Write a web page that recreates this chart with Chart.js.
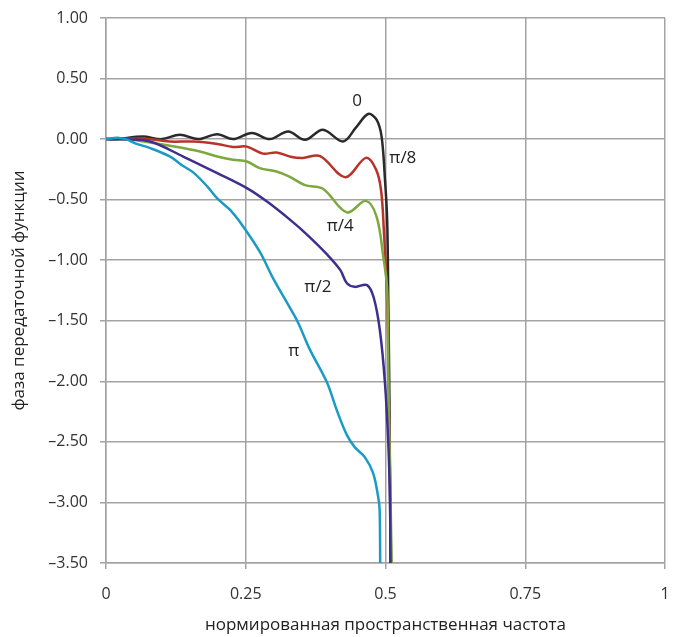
<!DOCTYPE html>
<html>
<head>
<meta charset="utf-8">
<script src="https://cdn.jsdelivr.net/npm/chart.js@4"></script>
<style>
  html, body { margin: 0; padding: 0; background: #fff; }
  #wrap { width: 676px; height: 637px; }
</style>
</head>
<body>
<div id="wrap"><canvas id="grafico" width="676" height="637"></canvas></div>
<script>
// нормированная частота / фаза
const xTicks = [0, 0.25, 0.5, 0.75, 1];
const yTicks = [1, 0.5, 0, -0.5, -1, -1.5, -2, -2.5, -3, -3.5];

const x0 = [0, 0.018, 0.066, 0.100, 0.132, 0.165, 0.199, 0.227, 0.261, 0.293, 0.326, 0.356, 0.388, 0.424, 0.447, 0.469, 0.484, 0.493, 0.499, 0.503, 0.505, 0.507, 0.509];
const y0 = [0, 0.0, 0.021, 0.0, 0.036, 0.0, 0.041, 0.0, 0.05, 0.0, 0.063, -0.006, 0.077, -0.02, 0.095, 0.207, 0.16, 0.02, -0.33, -0.67, -1.33, -2.15, -3.5];

const x8 = [0, 0.066, 0.114, 0.156, 0.199, 0.227, 0.252, 0.281, 0.305, 0.330, 0.352, 0.383, 0.428, 0.465, 0.483, 0.492, 0.497, 0.503, 0.506, 0.510];
const y8 = [0, 0.005, -0.02, -0.02, -0.04, -0.065, -0.062, -0.12, -0.11, -0.145, -0.155, -0.14, -0.314, -0.155, -0.25, -0.42, -0.75, -1.33, -2.15, -3.5];

const x4 = [0, 0.043, 0.079, 0.138, 0.168, 0.199, 0.227, 0.252, 0.275, 0.305, 0.328, 0.356, 0.388, 0.431, 0.465, 0.484, 0.496, 0.503, 0.505, 0.508, 0.511];
const y4 = [0, -0.006, -0.028, -0.074, -0.102, -0.144, -0.171, -0.185, -0.24, -0.268, -0.31, -0.38, -0.41, -0.605, -0.51, -0.64, -0.97, -1.245, -2.0, -2.7, -3.5];

const x2 = [0, 0.034, 0.079, 0.138, 0.199, 0.252, 0.288, 0.329, 0.360, 0.395, 0.419, 0.431, 0.445, 0.467, 0.479, 0.490, 0.499, 0.505, 0.508, 0.509];
const y2 = [0, -0.002, -0.02, -0.144, -0.281, -0.405, -0.516, -0.665, -0.79, -0.95, -1.08, -1.19, -1.22, -1.205, -1.31, -1.58, -2.01, -2.51, -2.98, -3.5];

const xPi = [0, 0.021, 0.039, 0.052, 0.079, 0.114, 0.138, 0.156, 0.181, 0.199, 0.222, 0.245, 0.275, 0.299, 0.324, 0.343, 0.365, 0.395, 0.413, 0.431, 0.445, 0.463, 0.478, 0.487, 0.4895, 0.4905];
const yPi = [0, 0.012, -0.006, -0.035, -0.074, -0.143, -0.222, -0.275, -0.39, -0.49, -0.585, -0.719, -0.93, -1.15, -1.353, -1.51, -1.74, -2.006, -2.24, -2.444, -2.543, -2.626, -2.76, -2.957, -3.06, -3.5];

const nomes = ["0", "π/8", "π/4", "π/2", "π"];
const cores = ["#2a2a2a", "#b8332a", "#7ca83e", "#3e2f8e", "#1a9bc5"];
const rotX = [0.449, 0.531, 0.419, 0.379, 0.336];
const rotY = [0.315, -0.155, -0.716, -1.22, -1.75];

function pontos(xs, ys) {
  return xs.map((x, i) => ({ x: x, y: ys[i] }));
}

const series = [pontos(x0, y0), pontos(x8, y8), pontos(x4, y4), pontos(x2, y2), pontos(xPi, yPi)];

const fonte = "'Open Sans', 'DejaVu Sans', sans-serif";

// подписи кривых
const rotulos = {
  id: "rotulos",
  afterDatasetsDraw(chart) {
    const c = chart.ctx;
    const sx = chart.scales.x;
    const sy = chart.scales.y;
    c.save();
    c.font = "17px " + fonte;
    c.fillStyle = "#222";
    c.textAlign = "center";
    c.textBaseline = "middle";
    nomes.forEach((n, i) => {
      c.fillText(n, sx.getPixelForValue(rotX[i]), sy.getPixelForValue(rotY[i]));
    });
    c.restore();
  },
};

const ctx = document.getElementById("grafico").getContext("2d");

let grafico = new Chart(ctx, {
  type: "line",
  data: {
    datasets: series.map((d, i) => ({
      label: nomes[i],
      data: d,
      borderColor: cores[i],
      borderWidth: 2.5,
      pointRadius: 0,
      fill: false,
      tension: 0.35,
    })).reverse(),
  },
  options: {
    responsive: false,
    animation: false,
    layout: { padding: { top: 18, right: 11, left: 0, bottom: 0 } },
    plugins: {
      legend: { display: false },
      tooltip: { enabled: false },
    },
    scales: {
      x: {
        type: "linear",
        min: 0,
        max: 1,
        afterBuildTicks: (s) => { s.ticks = xTicks.map((v) => ({ value: v })); },
        afterFit: (s) => {
          s.height = 74;
          s.paddingLeft = 0;
          s.paddingRight = 0;
        },
        grid: { color: "#a3a3a3", lineWidth: 1.5, tickLength: 6 },
        border: { color: "#a3a3a3", width: 1.5 },
        ticks: {
          color: "#333",
          font: { family: fonte, size: 16 },
          padding: 16,
          maxRotation: 0,
          autoSkip: false,
          callback: (v) => String(v),
        },
        title: {
          display: true,
          text: "нормированная пространственная частота",
          color: "#222",
          font: { family: fonte, size: 17 },
          padding: { top: 0, bottom: 2 },
        },
      },
      y: {
        min: -3.5,
        max: 1,
        afterBuildTicks: (s) => { s.ticks = yTicks.map((v) => ({ value: v })); },
        afterFit: (s) => {
          s.width = 106;
          s.paddingTop = 0;
          s.paddingBottom = 0;
        },
        grid: { color: "#a3a3a3", lineWidth: 1.5, tickLength: 6 },
        border: { color: "#a3a3a3", width: 1.5 },
        ticks: {
          color: "#333",
          font: { family: fonte, size: 16 },
          padding: 12,
          autoSkip: false,
          callback: (v) => (v < 0 ? "–" + Math.abs(v).toFixed(2) : v.toFixed(2)),
        },
        title: {
          display: true,
          text: "фаза передаточной функции",
          color: "#222",
          font: { family: fonte, size: 17 },
          padding: { top: 9, bottom: 0 },
        },
      },
    },
  },
  plugins: [rotulos],
});
</script>
</body>
</html>
